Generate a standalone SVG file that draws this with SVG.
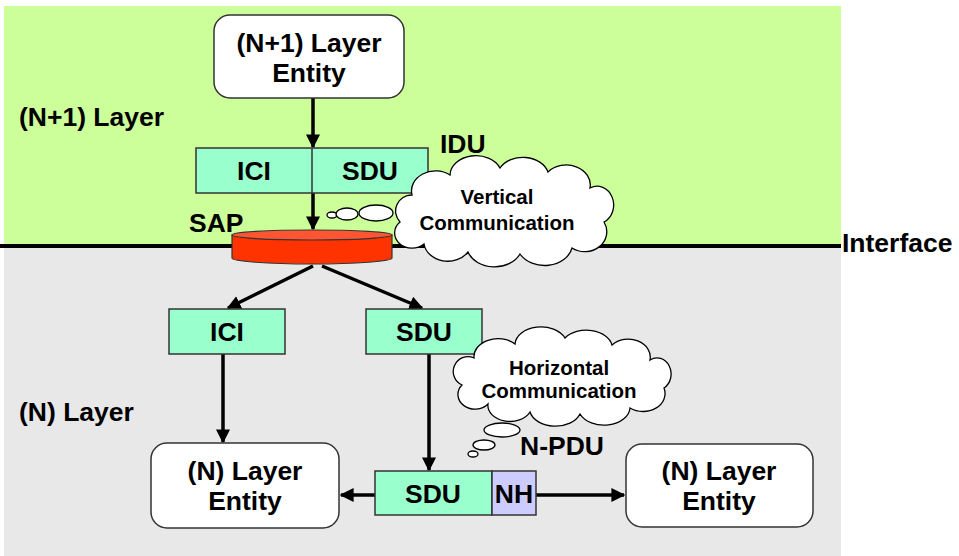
<svg xmlns="http://www.w3.org/2000/svg" width="959" height="556" viewBox="0 0 959 556">
<style>
text{font-family:"Liberation Sans",Arial,sans-serif;font-weight:bold;fill:#000}
.big{font-size:26.5px}
.cl{font-size:20.5px}
.box{stroke:#333;stroke-width:1.5}
.ent{fill:#fff;stroke:#333;stroke-width:1.5}
.pdu{fill:#99FFCC}
.cloud{fill:#fff;stroke:#000;stroke-width:1.3}
.conn{stroke:#000;stroke-width:3.5;fill:none;marker-end:url(#ah)}
</style>
<defs>
<marker id="ah" viewBox="0 0 10 10" refX="9" refY="5" markerWidth="4" markerHeight="4" orient="auto" markerUnits="strokeWidth">
<path d="M0,0 L10,5 L0,10 Z" fill="#000"/>
</marker>
</defs>
<rect x="4" y="6" width="837" height="240" fill="#CCFF99"/>
<rect x="4" y="246" width="837" height="310" fill="#E8E8E8"/>
<line x1="0" y1="246" x2="841" y2="246" stroke="#000" stroke-width="4"/>
<text class="big" x="19" y="126">(N+1) Layer</text>
<text class="big" x="19" y="421">(N) Layer</text>
<text class="big" x="842" y="252">Interface</text>

<g id="connectors">
<line class="conn" x1="313" y1="98" x2="313" y2="147"/>
<line class="conn" x1="313" y1="193" x2="313" y2="229"/>
<line class="conn" x1="313" y1="266" x2="228" y2="308"/>
<line class="conn" x1="322" y1="266" x2="422" y2="308"/>
<line class="conn" x1="223" y1="354" x2="223" y2="442"/>
<line class="conn" x1="429" y1="354" x2="429" y2="470"/>
<line class="conn" x1="375" y1="495" x2="341" y2="495"/>
<line class="conn" x1="536" y1="495" x2="624" y2="495"/>
</g>

<g id="n1-entity">
<rect class="ent" x="214" y="15" width="190" height="83" rx="16"/>
<text class="big" x="309" y="52" text-anchor="middle">(N+1) Layer</text>
<text class="big" x="309" y="82" text-anchor="middle">Entity</text>
</g>

<g id="idu">
<rect class="box pdu" x="196" y="148" width="232" height="45"/>
<line x1="312" y1="148" x2="312" y2="193" stroke="#333" stroke-width="1.5"/>
<text class="big" x="254" y="180" text-anchor="middle">ICI</text>
<text class="big" x="370" y="180" text-anchor="middle">SDU</text>
<text class="big" x="440" y="153">IDU</text>
</g>

<g id="sap">
<path d="M232,235 L232,258 A80,6 0 0 0 392,258 L392,235 Z" fill="#FF3300" stroke="#333" stroke-width="1.2"/>
<ellipse cx="312" cy="235" rx="80" ry="5" fill="#FF5533" stroke="#333" stroke-width="1.2"/>
<text class="big" x="189" y="232">SAP</text>
</g>

<g id="vertical-cloud">
<ellipse class="cloud" cx="332" cy="215" rx="5" ry="3"/>
<ellipse class="cloud" cx="347" cy="214" rx="11" ry="6"/>
<ellipse class="cloud" cx="376" cy="213" rx="17" ry="8"/>
<path class="cloud" d="M400,222 A16,16 0 0 1 412,195 A24,20 0 0 1 450,175 A26,20 0 0 1 500,168 A26,20 0 0 1 548,172 A24,20 0 0 1 590,188 A16,18 0 0 1 604,222 A22,20 0 0 1 572,248 A28,22 0 0 1 520,254 A28,22 0 0 1 468,252 A24,20 0 0 1 424,244 A16,14 0 0 1 400,222 Z"/>
<text class="cl" x="497" y="204" text-anchor="middle">Vertical</text>
<text class="cl" x="497" y="230" text-anchor="middle">Communication</text>
</g>

<g id="ici-n">
<rect class="box pdu" x="169" y="309" width="116" height="45"/>
<text class="big" x="227" y="341" text-anchor="middle">ICI</text>
</g>

<g id="sdu-n">
<rect class="box pdu" x="366" y="309" width="116" height="45"/>
<text class="big" x="424" y="341" text-anchor="middle">SDU</text>
</g>

<g id="horizontal-cloud">
<ellipse class="cloud" cx="502" cy="430" rx="18" ry="7"/>
<ellipse class="cloud" cx="484" cy="445" rx="11" ry="5"/>
<ellipse class="cloud" cx="473" cy="454" rx="5" ry="3"/>
<path class="cloud" d="M462,385 A14,14 0 0 1 474,358 A24,18 0 0 1 515,344 A26,18 0 0 1 565,338 A26,18 0 0 1 612,345 A22,18 0 0 1 650,360 A14,16 0 0 1 664,388 A22,18 0 0 1 630,408 A26,18 0 0 1 580,414 A26,18 0 0 1 530,412 A22,16 0 0 1 488,404 A14,12 0 0 1 462,385 Z"/>
<text class="cl" x="559" y="375" text-anchor="middle">Horizontal</text>
<text class="cl" x="559" y="398" text-anchor="middle">Communication</text>
</g>

<g id="n-entity-left">
<rect class="ent" x="151" y="443" width="188" height="85" rx="16"/>
<text class="big" x="245" y="480" text-anchor="middle">(N) Layer</text>
<text class="big" x="245" y="510" text-anchor="middle">Entity</text>
</g>

<g id="n-pdu">
<rect class="box pdu" x="375" y="471" width="117" height="44"/>
<rect class="box" x="492" y="471" width="44" height="44" fill="#CCCCFF"/>
<text class="big" x="433" y="503" text-anchor="middle">SDU</text>
<text class="big" x="514" y="503" text-anchor="middle">NH</text>
<text class="big" x="520" y="455">N-PDU</text>
</g>

<g id="n-entity-right">
<rect class="ent" x="626" y="444" width="187" height="83" rx="16"/>
<text class="big" x="719" y="480" text-anchor="middle">(N) Layer</text>
<text class="big" x="719" y="510" text-anchor="middle">Entity</text>
</g>
</svg>
